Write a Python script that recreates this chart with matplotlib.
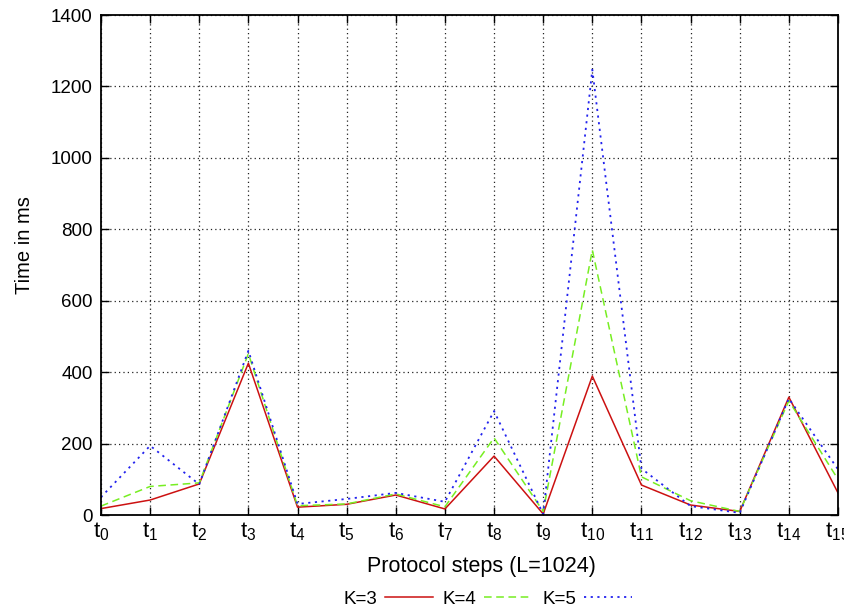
import matplotlib
matplotlib.use("Agg")
import matplotlib.pyplot as plt

plt.rcParams['font.family'] = ['Liberation Sans', 'DejaVu Sans']
plt.rcParams['mathtext.default'] = 'regular'
plt.rcParams['font.size'] = 13.5

#%% data
steps = list(range(16))
step_labels = [r'$t_{%d}$' % i for i in steps]

k3 = [18, 42, 87, 425, 22, 30, 56, 17, 165, 3, 389, 84, 28, 10, 330, 62]
k4 = [25, 80, 90, 452, 26, 31, 59, 23, 216, 10, 742, 107, 40, 10, 320, 100]
k5 = [50, 194, 86, 460, 31, 45, 62, 37, 291, 3, 1247, 130, 25, 6, 326, 128]

#%% plot
fig = plt.figure(figsize=(8.45, 6.1), dpi=100)
ax = fig.add_axes([0.1195, 0.1557, 0.8722, 0.8197])

ax.plot(steps, k3, color='#cc1111', lw=1.1, label='K=3')
ax.plot(steps, k4, color='#77ee22', lw=1.1, ls=(0, (5, 3)), label='K=4')
ax.plot(steps, k5, color='#2222ee', lw=1.3, ls=(0, (1.2, 2.5)), label='K=5')

ax.set_xlim(0, 15)
ax.set_ylim(0, 1400)
ax.set_xticks(steps)
ax.set_xticklabels(step_labels, fontsize=16)
ax.set_yticks(range(0, 1401, 200))

ax.grid(True, color='#222222', ls=(0, (1, 2.5)), lw=0.9)
ax.tick_params(direction='in', length=6, width=1, top=True, right=True, pad=6)
ax.tick_params(axis='x', pad=4)
for s in ax.spines.values():
    s.set_linewidth(1.3)

ax.set_xlabel('Protocol steps (L=1024)', fontsize=15.5)
ax.xaxis.set_label_coords(0.516, -0.082)
ax.set_ylabel('Time in ms', fontsize=14.5)
ax.yaxis.set_label_coords(-0.091, 0.54)

fig.legend(loc='center', bbox_to_anchor=(0.577, 0.018), ncol=3,
           markerfirst=False, frameon=False, handlelength=2.55,
           columnspacing=0.55, handletextpad=0.4, fontsize=13.5)

fig.savefig('out.png', dpi=100)
